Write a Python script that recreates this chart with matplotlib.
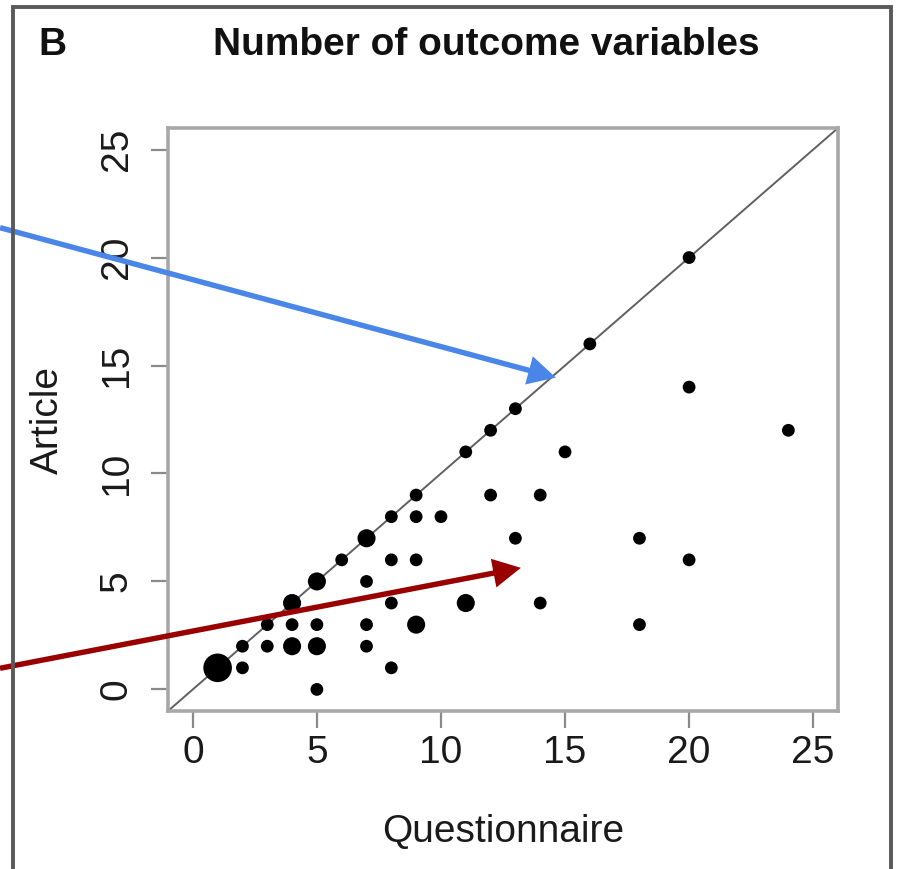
import matplotlib
matplotlib.use("Agg")
import matplotlib.pyplot as plt
import numpy as np
from matplotlib.patches import Rectangle

plt.rcParams['font.family'] = ['Liberation Sans', 'DejaVu Sans']

# Data: (questionnaire, article, number of studies)
questionnaire = [1, 2, 3, 4, 5, 6, 7, 8, 9, 11, 12, 13, 16, 20,
                 2, 3, 4, 4, 5, 5, 5, 7, 7, 7, 8, 8, 8, 9, 9, 9, 10,
                 11, 12, 13, 14, 14, 15, 18, 18, 20, 20, 24]
article = [1, 2, 3, 4, 5, 6, 7, 8, 9, 11, 12, 13, 16, 20,
           1, 2, 2, 3, 0, 2, 3, 2, 3, 5, 1, 4, 6, 3, 6, 8, 8,
           4, 9, 7, 4, 9, 11, 3, 7, 6, 14, 12]
count = [5, 1, 1, 2, 2, 1, 2, 1, 1, 1, 1, 1, 1, 1,
         1, 1, 2, 1, 1, 2, 1, 1, 1, 1, 1, 1, 1, 2, 1, 1, 1,
         2, 1, 1, 1, 1, 1, 1, 1, 1, 1, 1]

ticks = [0, 5, 10, 15, 20, 25]
title = "Number of outcome variables"
panel = "B"
xlabel = "Questionnaire"
ylabel = "Article"

# annotation arrows: start (figure fraction) -> tip (data coords)
blue_start = (0.0, 0.738)
blue_tip = (14.63, 14.44)
red_start = (0.0, 0.231)
red_tip = (13.22, 5.63)

W, H = 901, 869
fig = plt.figure(figsize=(W / 100, H / 100), dpi=100)

# outer panel border
fig.patches.append(Rectangle((13 / W, -0.05), (891 - 13) / W, 1.05 - 7 / H,
                             transform=fig.transFigure, fill=False,
                             edgecolor='#5a5a5a', linewidth=2.8, zorder=0))

ax = fig.add_axes([168 / W, 1 - 711 / H, (838 - 168) / W, (711 - 128) / H])
ax.set_xlim(-1, 26)
ax.set_ylim(-1, 26)

ax.axline((0, 0), slope=1, color='#606060', linewidth=1.4, zorder=1)

sizes = [(9.2 * np.sqrt(c)) ** 2 for c in count]
ax.scatter(questionnaire, article, s=sizes, color='black', edgecolors='none',
           zorder=3)

for sp in ax.spines.values():
    sp.set_color('#a8a8a8')
    sp.set_linewidth(2.6)

ax.set_xticks(ticks)
ax.set_yticks(ticks)
ax.set_xticklabels([str(t) for t in ticks])
ax.set_yticklabels([str(t) for t in ticks], rotation=90, va='center')
ax.tick_params(axis='both', length=12, width=1.6, color='#8a8a8a',
               labelsize=28, labelcolor='#1a1a1a')
ax.tick_params(axis='x', pad=5)
ax.tick_params(axis='y', pad=12)

fig.text(503 / W, 1 - 832 / H, xlabel, fontsize=28, ha='center', va='center',
         color='#1a1a1a')
fig.text(48 / W, 1 - 420 / H, ylabel, fontsize=28, ha='center', va='center',
         rotation=90, color='#1a1a1a')
fig.text(486 / W, 1 - 45 / H, title, fontsize=28, fontweight='bold',
         ha='center', va='center', color='#111111')
fig.text(52 / W, 1 - 45 / H, panel, fontsize=28, fontweight='bold',
         ha='center', va='center', color='#111111')

style = "simple,tail_width=3.9,head_width=21,head_length=20"
ax.annotate("", xy=blue_tip, xycoords='data', xytext=blue_start,
            textcoords='figure fraction',
            arrowprops=dict(arrowstyle=style, color='#4a86e8', lw=0,
                            shrinkA=0, shrinkB=0, mutation_scale=1),
            annotation_clip=False, zorder=5)
ax.annotate("", xy=red_tip, xycoords='data', xytext=red_start,
            textcoords='figure fraction',
            arrowprops=dict(arrowstyle=style, color='#990000', lw=0,
                            shrinkA=0, shrinkB=0, mutation_scale=1),
            annotation_clip=False, zorder=5)

fig.savefig("out.png", dpi=100)
